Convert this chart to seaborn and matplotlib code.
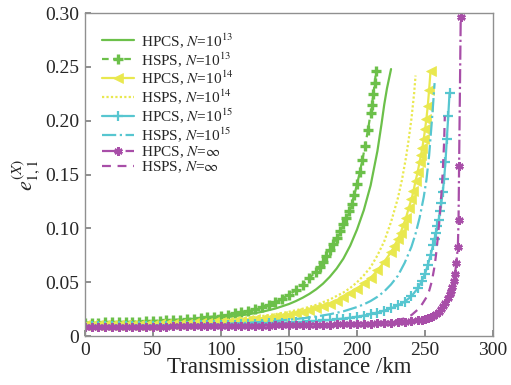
import numpy as np
import pandas as pd
import matplotlib
matplotlib.use("Agg")
import matplotlib.pyplot as plt
import seaborn as sns

# ---- data (distance in km, error rate) ----
# HPCS, N=1e13 (solid green)
d_hpcs13 = [0, 10, 20, 30, 40, 50, 60, 70, 80, 90, 100, 110, 120, 130, 140, 150,
            155, 160, 165, 170, 175, 180, 185, 190, 195, 200, 205, 210, 215, 218,
            220, 222, 225]
e_hpcs13 = [0.0120, 0.0121, 0.0123, 0.0126, 0.0129, 0.0133, 0.0138, 0.0144, 0.0151,
            0.0160, 0.0171, 0.0185, 0.0202, 0.0225, 0.0256, 0.0298, 0.0325, 0.0356,
            0.0392, 0.0435, 0.0487, 0.0551, 0.0627, 0.0720, 0.0840, 0.0990, 0.1170,
            0.1400, 0.1720, 0.1970, 0.2150, 0.2300, 0.2480]

# HSPS, N=1e13 (dashed green, + markers)
d_hsps13 = [0, 5, 10, 15, 20, 25, 30, 35, 40, 45, 50, 55, 60, 65, 70, 75, 80, 85,
            90, 95, 100, 105, 110, 115, 120, 125, 130, 135, 140, 145, 150, 155, 160,
            165, 170, 172.5, 175, 177.5, 180, 182.5, 185, 187.5, 190, 192, 194, 196,
            198, 200, 202, 204, 206, 208, 210, 211, 212, 213, 214]
e_hsps13 = [0.0125, 0.0125, 0.0126, 0.0127, 0.0128, 0.0130, 0.0131, 0.0133, 0.0135,
            0.0137, 0.0140, 0.0143, 0.0146, 0.0150, 0.0154, 0.0158, 0.0163, 0.0169,
            0.0175, 0.0182, 0.0190, 0.0199, 0.0210, 0.0222, 0.0236, 0.0252, 0.0270,
            0.0292, 0.0318, 0.0348, 0.0384, 0.0426, 0.0478, 0.0540, 0.0600, 0.0645,
            0.0690, 0.0745, 0.0800, 0.0855, 0.0910, 0.0975, 0.1040, 0.1100, 0.1160,
            0.1230, 0.1310, 0.1410, 0.1520, 0.1640, 0.1770, 0.1910, 0.2070, 0.2150,
            0.2250, 0.2350, 0.2460]

# HPCS, N=1e14 (solid yellow, triangle markers)
d_hpcs14 = [0, 5, 10, 15, 20, 25, 30, 35, 40, 45, 50, 55, 60, 65, 70, 75, 80, 85,
            90, 95, 100, 105, 110, 115, 120, 125, 130, 135, 140, 145, 150, 155, 160,
            165, 170, 175, 180, 185, 190, 195, 200, 205, 210, 215, 220, 225, 227.5,
            230, 232, 234, 236, 238, 240, 241.5, 243, 244.5, 246, 247, 248, 249, 250,
            251, 252, 253, 254]
e_hpcs14 = [0.0100, 0.0100, 0.0101, 0.0101, 0.0102, 0.0103, 0.0104, 0.0105, 0.0106,
            0.0106, 0.0107, 0.0109, 0.0110, 0.0112, 0.0114, 0.0116, 0.0118, 0.0121,
            0.0124, 0.0127, 0.0130, 0.0134, 0.0139, 0.0144, 0.0150, 0.0156, 0.0163,
            0.0171, 0.0180, 0.0190, 0.0200, 0.0212, 0.0225, 0.0240, 0.0257, 0.0277,
            0.0300, 0.0330, 0.0360, 0.0400, 0.0440, 0.0490, 0.0540, 0.0610, 0.0690,
            0.0780, 0.0840, 0.0900, 0.0960, 0.1030, 0.1100, 0.1190, 0.1270, 0.1350,
            0.1440, 0.1520, 0.1620, 0.1680, 0.1750, 0.1830, 0.1920, 0.2020, 0.2140,
            0.2290, 0.2460]

# HSPS, N=1e14 (dotted yellow)
d_hsps14 = [0, 10, 20, 30, 40, 50, 60, 70, 80, 90, 100, 110, 120, 130, 140, 150, 160,
            170, 180, 190, 195, 200, 205, 210, 215, 220, 225, 230, 233, 236, 238, 240,
            242, 243]
e_hsps14 = [0.0105, 0.0106, 0.0108, 0.0110, 0.0113, 0.0116, 0.0120, 0.0125, 0.0131,
            0.0138, 0.0147, 0.0158, 0.0171, 0.0186, 0.0204, 0.0226, 0.0254, 0.0290,
            0.0340, 0.0405, 0.0447, 0.0500, 0.0565, 0.0640, 0.0750, 0.0880, 0.1060,
            0.1280, 0.1450, 0.1660, 0.1830, 0.2020, 0.2260, 0.2420]

# HPCS, N=1e15 (solid cyan, + markers)
d_hpcs15 = [0, 5, 10, 15, 20, 25, 30, 35, 40, 45, 50, 55, 60, 65, 70, 75, 80, 85,
            90, 95, 100, 105, 110, 115, 120, 125, 130, 135, 140, 145, 150, 155, 160,
            165, 170, 175, 180, 185, 190, 195, 200, 205, 210, 215, 220, 225, 230, 235,
            240, 245, 247.5, 250, 252, 254, 256, 257, 258, 259, 260, 261, 262, 263,
            264, 265, 266, 267, 268]
e_hpcs15 = [0.0090, 0.0090, 0.0091, 0.0091, 0.0092, 0.0092, 0.0093, 0.0093, 0.0094,
            0.0094, 0.0095, 0.0096, 0.0096, 0.0097, 0.0098, 0.0098, 0.0099, 0.0100,
            0.0101, 0.0102, 0.0104, 0.0105, 0.0107, 0.0109, 0.0111, 0.0113, 0.0115,
            0.0118, 0.0120, 0.0123, 0.0126, 0.0129, 0.0132, 0.0136, 0.0140, 0.0145,
            0.0150, 0.0156, 0.0163, 0.0171, 0.0180, 0.0191, 0.0204, 0.0219, 0.0237,
            0.0258, 0.0285, 0.0320, 0.0370, 0.0450, 0.0510, 0.0580, 0.0660, 0.0750,
            0.0850, 0.0905, 0.0960, 0.1020, 0.1080, 0.1160, 0.1240, 0.1340, 0.1460,
            0.1620, 0.1830, 0.2040, 0.2260]

# HSPS, N=1e15 (dash-dot cyan)
d_hsps15 = [0, 20, 40, 60, 80, 100, 120, 140, 160, 170, 180, 190, 200, 205, 210, 215,
            220, 225, 230, 235, 240, 243, 246, 249, 251, 253, 255, 256, 257]
e_hsps15 = [0.0095, 0.0096, 0.0098, 0.0101, 0.0106, 0.0113, 0.0124, 0.0140, 0.0165,
            0.0182, 0.0203, 0.0230, 0.0270, 0.0295, 0.0326, 0.0365, 0.0415, 0.0480,
            0.0560, 0.0680, 0.0830, 0.0950, 0.1100, 0.1290, 0.1450, 0.1680, 0.2000,
            0.2170, 0.2350]

# HPCS, N=inf (dash-dot purple, asterisk markers)
d_hpcsinf = [0, 5, 10, 15, 20, 25, 30, 35, 40, 45, 50, 55, 60, 65, 70, 75, 80, 85,
             90, 95, 100, 105, 110, 115, 120, 125, 130, 135, 140, 145, 150, 155, 160,
             165, 170, 175, 180, 185, 190, 195, 200, 205, 210, 215, 220, 225, 230, 235,
             240, 245, 247.5, 250, 252, 254, 256, 258, 260, 262, 263.5, 265, 266.5,
             268, 269, 270, 271, 272, 273, 274.1, 274.6, 275.0, 276.2]
e_hpcsinf = [0.0085, 0.0085, 0.0085, 0.0086, 0.0086, 0.0086, 0.0087, 0.0087, 0.0087,
             0.0088, 0.0088, 0.0089, 0.0089, 0.0090, 0.0090, 0.0091, 0.0091, 0.0092,
             0.0092, 0.0093, 0.0093, 0.0094, 0.0095, 0.0095, 0.0096, 0.0097, 0.0097,
             0.0098, 0.0099, 0.0100, 0.0101, 0.0102, 0.0103, 0.0104, 0.0105, 0.0106,
             0.0107, 0.0108, 0.0110, 0.0111, 0.0113, 0.0115, 0.0117, 0.0119, 0.0122,
             0.0125, 0.0129, 0.0134, 0.0140, 0.0148, 0.0152, 0.0158, 0.0166, 0.0176,
             0.0188, 0.0203, 0.0222, 0.0250, 0.0275, 0.0310, 0.0350, 0.0390, 0.0420,
             0.0460, 0.0510, 0.0580, 0.0680, 0.0830, 0.1080, 0.1580, 0.2960]

# HSPS, N=inf (dashed purple)
d_hspsinf = [0, 25, 50, 75, 100, 125, 150, 175, 200, 215, 225, 235, 240, 245, 248, 251,
             253, 255, 257, 258, 259, 260, 261, 262, 263, 264, 264.5]
e_hspsinf = [0.0080, 0.0081, 0.0082, 0.0084, 0.0086, 0.0089, 0.0093, 0.0099, 0.0108,
             0.0120, 0.0135, 0.0165, 0.0195, 0.0250, 0.0300, 0.0360, 0.0420, 0.0510,
             0.0650, 0.0750, 0.0870, 0.1000, 0.1150, 0.1320, 0.1530, 0.1800, 0.2040]

labels = ["HPCS, $N$=10$^{13}$", "HSPS, $N$=10$^{13}$",
          "HPCS, $N$=10$^{14}$", "HSPS, $N$=10$^{14}$",
          "HPCS, $N$=10$^{15}$", "HSPS, $N$=10$^{15}$",
          "HPCS, $N$=$\\infty$", "HSPS, $N$=$\\infty$"]
distances = [d_hpcs13, d_hsps13, d_hpcs14, d_hsps14, d_hpcs15, d_hsps15, d_hpcsinf, d_hspsinf]
errors = [e_hpcs13, e_hsps13, e_hpcs14, e_hsps14, e_hpcs15, e_hsps15, e_hpcsinf, e_hspsinf]

green, yellow, cyan, purple = "#6cc04a", "#e9e84e", "#57c6d0", "#a84ea8"
styles = [
    dict(color=green, linestyle="-"),
    dict(color=green, linestyle=(0, (3, 2)), marker="+", markersize=6.5, markeredgewidth=2.4),
    dict(color=yellow, linestyle="-", marker="<", markersize=7.5, markeredgewidth=0.5),
    dict(color=yellow, linestyle=(0, (1, 1))),
    dict(color=cyan, linestyle="-", marker="+", markersize=7, markeredgewidth=1.6),
    dict(color=cyan, linestyle="-."),
    dict(color=purple, linestyle="-.", marker=(6, 2, 0), markersize=6, markeredgewidth=1.8),
    dict(color=purple, linestyle=(0, (4, 3))),
]

sns.set_theme(style="ticks")
plt.rcParams["font.family"] = ["Liberation Serif", "DejaVu Serif"]
plt.rcParams["mathtext.fontset"] = "stix"

fig = plt.figure(figsize=(5.11, 3.85), dpi=100)
ax = fig.add_axes([0.166, 0.127, 0.799, 0.839])

for lab, d, e, st in zip(labels, distances, errors, styles):
    df = pd.DataFrame({"distance": d, "error": e})
    c = st["color"]
    sns.lineplot(data=df, x="distance", y="error", ax=ax, label=lab,
                 sort=False, estimator=None, linewidth=1.6,
                 markeredgecolor=c, markerfacecolor=c, **st)

ax.set_xlim(0, 300)
ax.set_ylim(0, 0.30)
ax.set_xticks([0, 50, 100, 150, 200, 250, 300])
ax.set_yticks([0, 0.05, 0.10, 0.15, 0.20, 0.25, 0.30])
ax.set_yticklabels(["0", "0.05", "0.10", "0.15", "0.20", "0.25", "0.30"])
ax.tick_params(direction="in", length=4, color="#808080", labelsize=14, pad=4)
for s in ax.spines.values():
    s.set_color("#909090")
    s.set_linewidth(1.0)
ax.set_xlabel("Transmission distance /km", fontsize=16.5, labelpad=-1)
ax.set_ylabel("$e_{1,1}^{(X)}$", fontsize=16, labelpad=2)

ax.legend(loc="upper left", frameon=False, fontsize=11, handlelength=2.1,
          labelspacing=0.0, borderaxespad=0.75, handletextpad=0.45)

fig.savefig("out.png", dpi=100)
